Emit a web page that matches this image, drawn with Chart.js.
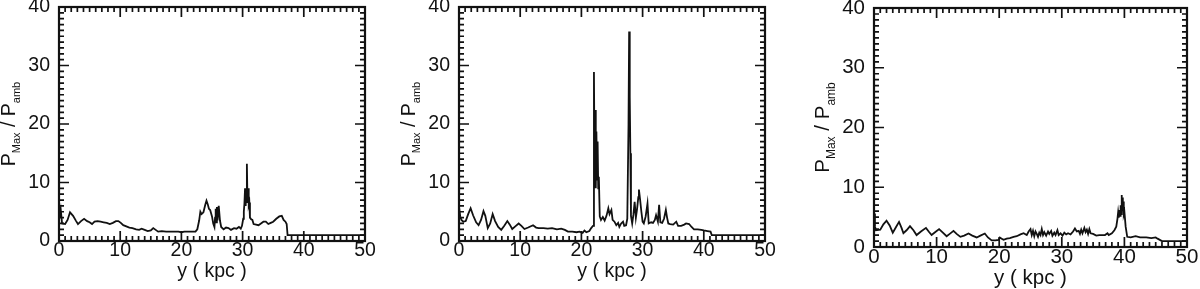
<!DOCTYPE html>
<html lang="en">
<head>
<meta charset="UTF-8">
<title>P max / P amb</title>
<script src="https://cdn.jsdelivr.net/npm/chart.js"></script>
<style>
  body { margin: 0; background: #fff; }
  .panel { position: absolute; top: 0; }
</style>
</head>
<body>
<canvas id="c1" class="panel" style="left:0px"></canvas>
<canvas id="c2" class="panel" style="left:400px"></canvas>
<canvas id="c3" class="panel" style="left:800px"></canvas>
<script>
// axis ranges and tick labels
var xTicks = [0, 10, 20, 30, 40, 50];
var yTicks = [0, 10, 20, 30, 40];
var xTitle = 'y ( kpc )';

// panel 1
var xs1 = [0,0.15,0.3,0.5,1.0,1.4,1.8,2.3,2.8,3.1,3.6,4.1,4.6,5.0,5.4,5.8,6.3,6.8,7.3,7.8,8.3,8.8,9.3,9.7,10.1,10.5,11.0,11.5,12.0,12.6,13.1,13.5,14.0,14.5,15.0,15.4,15.8,16.2,16.8,17.5,18.5,19.5,20.0,20.5,21.5,22.3,22.6,22.9,23.1,23.3,23.6,23.9,24.1,24.3,24.5,24.7,25.0,25.2,25.4,25.5,25.6,25.7,25.8,25.9,26.1,26.3,26.5,26.9,27.3,27.7,28.1,28.6,29.0,29.4,29.7,29.9,30.1,30.2,30.3,30.4,30.5,30.6,30.7,30.8,30.9,31.0,31.1,31.2,31.4,31.6,31.8,32.2,32.6,33.0,33.4,33.8,34.2,34.6,35.0,35.5,36.0,36.4,36.7,37.0,37.2,37.35,40,50];
var ys1 = [5.9,4.0,5.2,3.0,2.9,3.6,4.9,4.3,3.4,2.9,3.4,3.8,3.4,3.2,2.9,3.3,3.4,3.3,3.2,3.1,2.9,3.1,3.4,3.4,3.1,2.7,2.5,2.3,2.2,2.0,1.9,2.1,1.9,1.7,1.8,2.2,1.9,1.6,1.7,1.6,1.6,1.6,1.5,1.6,1.6,1.6,2.0,3.5,5.0,4.6,4.9,6.2,6.9,6.3,5.5,5.3,4.2,3.0,2.4,4.0,5.5,3.2,5.8,3.5,6.0,3.5,2.4,2.0,2.3,2.2,1.9,2.2,2.1,2.4,2.1,2.6,3.8,5.0,6.4,9.0,6.0,8.5,13.2,6.5,9.0,6.2,6.6,4.0,3.7,3.6,2.9,2.8,2.7,3.0,3.3,3.3,2.9,3.1,3.3,3.8,4.2,4.3,3.6,3.3,2.9,1.0,1.0,1.0];

// panel 2
var xs2 = [0,0.2,0.4,0.7,1.1,1.5,1.9,2.3,2.8,3.2,3.6,4.0,4.3,4.7,5.1,5.5,5.9,6.4,6.9,7.4,7.9,8.3,8.7,9.2,9.75,10.2,10.7,11.3,12.1,12.6,13.0,13.8,14.5,15.2,16.0,16.7,17.3,17.8,18.5,19.2,19.7,20.2,20.5,20.8,21.3,21.6,21.9,22.05,22.15,22.25,22.35,22.45,22.55,22.65,22.75,22.85,23.0,23.2,23.5,23.8,24.1,24.4,24.6,24.9,25.1,25.4,25.7,26.0,26.2,26.5,26.8,27.0,27.3,27.5,27.7,27.8,27.9,28.0,28.1,28.3,28.5,28.7,28.9,29.1,29.3,29.4,29.6,29.8,30.0,30.2,30.5,30.8,31.0,31.4,31.7,32.0,32.2,32.5,32.7,32.9,33.2,33.5,33.8,34.0,34.2,34.5,35.0,35.5,35.8,36.3,36.8,37.1,37.6,38.0,38.4,39.0,39.6,40.0,40.6,41.1,41.3,50];
var ys2 = [5.9,4.2,3.6,3.3,3.4,4.6,5.6,4.4,3.2,2.7,3.6,5.1,4.3,2.2,3.0,4.6,3.4,2.4,1.9,2.6,3.4,2.8,2.05,2.5,3.0,2.6,2.05,2.3,2.7,2.3,2.2,2.2,2.1,2.2,2.0,2.1,1.9,1.6,1.6,1.5,1.6,1.4,1.8,1.5,1.7,2.2,2.6,28.9,12.0,22.4,9.0,18.7,10.5,17.0,9.0,11.0,4.2,3.6,4.1,3.5,4.3,5.6,4.6,5.3,3.6,3.3,2.7,3.1,2.4,3.0,3.3,2.6,2.7,3.8,20.0,35.8,24.7,15.0,4.3,3.0,4.5,6.7,4.0,5.5,7.5,8.8,7.0,5.0,3.3,3.0,4.2,6.4,3.0,3.2,3.1,3.6,4.4,3.3,6.2,3.2,3.1,3.8,5.3,4.0,3.0,2.9,2.8,3.3,2.6,2.6,2.8,3.0,2.9,2.4,2.0,2.0,1.9,1.8,1.7,1.6,1.0,1.0];

// panel 3
var xs3 = [0,0.15,0.3,1.0,1.5,2.0,2.5,3.0,3.5,4.0,4.4,4.7,5.2,5.75,6.3,6.8,7.5,8.3,8.8,9.2,9.8,10.4,11.0,11.6,12.1,12.7,13.2,13.8,14.4,15.1,15.7,16.4,17.0,17.7,18.2,18.8,19.4,19.9,20.1,20.4,20.7,21.2,21.7,22.3,22.8,23.4,23.9,24.4,24.7,25.0,25.2,25.4,25.6,25.8,26.0,26.2,26.4,26.6,26.8,27.0,27.2,27.5,27.8,28.0,28.3,28.5,28.8,29.0,29.3,29.5,29.8,30.1,30.4,30.7,31.0,31.4,31.8,32.1,32.4,32.7,32.9,33.1,33.3,33.6,33.8,34.0,34.2,34.4,34.6,35.0,35.5,36.0,36.5,36.9,37.3,37.5,38.0,38.4,38.7,38.9,39.0,39.1,39.2,39.3,39.4,39.5,39.55,39.6,39.7,39.75,39.8,39.9,40.0,40.2,40.45,41.0,41.8,42.5,43.5,44.3,45.0,45.3,46.0,50];
var ys3 = [5.6,3.5,2.8,2.9,3.8,4.4,3.6,2.4,3.3,4.2,3.2,2.3,2.8,3.5,2.8,2.0,2.6,3.2,2.5,2.0,2.5,3.0,2.4,1.8,2.2,2.7,2.2,1.7,1.9,2.25,1.9,1.6,1.9,2.25,1.6,1.1,1.1,1.2,1.6,1.4,1.2,1.4,1.5,1.7,1.8,2.1,2.3,2.0,2.6,3.0,2.0,2.7,1.8,2.6,2.2,1.7,2.4,2.0,3.0,2.0,2.5,1.9,2.6,2.2,2.7,1.9,2.4,2.0,2.8,2.0,2.3,1.9,2.4,2.1,2.3,2.1,2.6,3.1,2.6,2.7,2.2,2.9,2.3,3.2,2.5,2.9,2.2,3.0,2.3,2.2,1.9,2.0,2.0,2.0,2.3,2.0,2.3,2.8,3.4,4.8,5.8,4.9,6.2,5.2,7.0,5.5,8.7,6.0,8.3,6.2,7.6,5.5,5.9,3.4,1.7,1.6,1.8,1.6,1.6,1.5,1.6,1.4,1.0,1.0];

var FAMILY = 'Liberation Sans';

// inward ticks on all four sides, frame and axis titles
var framePlugin = {
  id: 'frame',
  afterDraw: function(chart) {
    var ctx = chart.ctx, a = chart.chartArea;
    var sx = chart.scales.x, sy = chart.scales.y;
    var o = chart.options.plugins.frame;
    ctx.save();
    ctx.strokeStyle = '#111';
    ctx.lineWidth = 1.7;
    ctx.beginPath();
    for (var v = 0; v <= 50; v++) {
      var px = sx.getPixelForValue(v);
      var len = v % 10 === 0 ? 10 : 5;
      ctx.moveTo(px, a.bottom); ctx.lineTo(px, a.bottom - len);
      ctx.moveTo(px, a.top); ctx.lineTo(px, a.top + len);
    }
    for (var w = 0; w <= 40; w++) {
      var py = sy.getPixelForValue(w);
      var l2 = w % 10 === 0 ? 10 : 5;
      ctx.moveTo(a.left, py); ctx.lineTo(a.left + l2, py);
      ctx.moveTo(a.right, py); ctx.lineTo(a.right - l2, py);
    }
    ctx.stroke();
    ctx.lineWidth = 2.2;
    ctx.strokeRect(a.left, a.top, a.right - a.left, a.bottom - a.top);

    var fs = o.fontSize, sub = Math.round(fs * 0.58);
    var big = fs + 'px "' + FAMILY + '"', small = sub + 'px "' + FAMILY + '"';
    ctx.fillStyle = '#111';
    ctx.textBaseline = 'alphabetic';
    // x title
    ctx.font = big;
    ctx.textAlign = 'center';
    ctx.fillText(xTitle, (a.left + a.right) / 2, o.xTitleY);
    // y title with subscripts, rotated
    var parts = [['P', big, 0], ['Max', small, 0.28], [' / P', big, 0], ['amb', small, 0.28]];
    var total = 0;
    ctx.textAlign = 'left';
    parts.forEach(function(p) { ctx.font = p[1]; total += ctx.measureText(p[0]).width; });
    ctx.translate(o.yTitleX, (a.top + a.bottom) / 2);
    ctx.rotate(-Math.PI / 2);
    var cx = -total / 2;
    parts.forEach(function(p) {
      ctx.font = p[1];
      ctx.fillText(p[0], cx, p[2] * fs);
      cx += ctx.measureText(p[0]).width;
    });
    ctx.restore();
  }
};

function makePanel(id, xs, ys, box) {
  var W = 400, H = 289;
  var pts = xs.map(function(x, i) { return { x: x, y: ys[i] }; });
  var font = { family: FAMILY, size: box.fontSize, lineHeight: 1.0 };
  return new Chart(document.getElementById(id), {
    type: 'line',
    data: {
      datasets: [{
        data: pts,
        borderColor: '#111',
        borderWidth: 1.8,
        pointRadius: 0,
        tension: 0,
        fill: false
      }]
    },
    options: {
      responsive: false,
      animation: false,
      layout: { padding: { left: 0, right: W - box.right, top: box.top, bottom: 0 } },
      plugins: {
        legend: { display: false },
        tooltip: { enabled: false },
        frame: { fontSize: box.fontSize, xTitleY: box.xTitleY, yTitleX: box.yTitleX }
      },
      scales: {
        x: {
          type: 'linear', min: 0, max: 50,
          afterBuildTicks: function(s) { s.ticks = xTicks.map(function(v) { return { value: v }; }); },
          afterFit: function(s) { s.height = H - box.bottom; s.paddingLeft = 0; s.paddingRight = 0; },
          grid: { display: false, drawTicks: false },
          border: { display: false },
          ticks: { color: '#111', font: font, padding: 0, maxRotation: 0, autoSkip: false }
        },
        y: {
          type: 'linear', min: 0, max: 40,
          afterBuildTicks: function(s) { s.ticks = yTicks.map(function(v) { return { value: v }; }); },
          afterFit: function(s) { s.width = box.left; s.paddingTop = 0; s.paddingBottom = 0; },
          grid: { display: false, drawTicks: false },
          border: { display: false },
          ticks: { color: '#111', font: font, padding: 9, autoSkip: false }
        }
      }
    },
    plugins: [framePlugin]
  });
}

function sizeCanvas(id) {
  var c = document.getElementById(id);
  c.width = 400; c.height = 289;
  c.style.width = '400px'; c.style.height = '289px';
}
['c1', 'c2', 'c3'].forEach(sizeCanvas);

makePanel('c1', xs1, ys1, { left: 59, right: 365, top: 7, bottom: 241, fontSize: 19.5, xTitleY: 277, yTitleX: 15 });
makePanel('c2', xs2, ys2, { left: 59, right: 365, top: 7, bottom: 241, fontSize: 19.5, xTitleY: 277, yTitleX: 15 });
makePanel('c3', xs3, ys3, { left: 74, right: 387, top: 8, bottom: 247, fontSize: 20.5, xTitleY: 284, yTitleX: 29 });
</script>
</body>
</html>
